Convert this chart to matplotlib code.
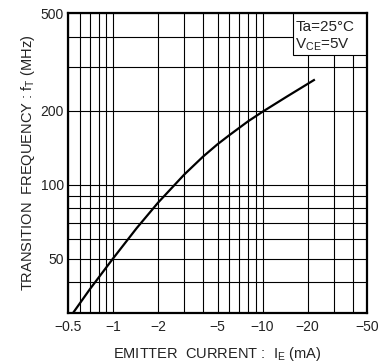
import matplotlib
matplotlib.use("Agg")
import matplotlib.pyplot as plt
from matplotlib.patches import Rectangle
from matplotlib.ticker import FixedLocator, NullFormatter

plt.rcParams['font.family'] = ['Liberation Sans', 'DejaVu Sans']
plt.rcParams['mathtext.fontset'] = 'custom'
plt.rcParams['mathtext.rm'] = 'Liberation Sans'

# Data (emitter current in mA, negative; transition frequency in MHz)
emitter_current = [-0.54, -0.7, -1.0, -1.44, -2.0, -3.0, -4.0, -5.0, -6.0, -8.0,
                   -10.0, -14.5, -22.4]
transition_freq = [30, 37.5, 50, 66.5, 84.4, 110, 130, 146, 159, 181,
                   198, 228, 268]

x_major = [0.5, 1, 2, 5, 10, 20, 50]
x_major_labels = ['\u22120.5', '\u22121', '\u22122', '\u22125', '\u221210', '\u221220', '\u221250']
x_minor = [0.6, 0.7, 0.8, 0.9, 3, 4, 6, 7, 8, 9, 30, 40]
y_major = [50, 100, 200, 500]
y_major_labels = ['50', '100', '200', '500']
y_minor = [40, 60, 70, 80, 90, 300, 400]

fig = plt.figure(figsize=(3.8, 3.64), dpi=100)
ax = fig.add_axes([68/380, 51/364, 299/380, 300/364])
ax.set_xscale('log')
ax.set_yscale('log')
ax.set_xlim(0.5, 50)
ax.set_ylim(30, 500)

ax.plot([-v for v in emitter_current], transition_freq, color='black', lw=1.6,
        solid_capstyle='butt', solid_joinstyle='round', zorder=3)

ax.xaxis.set_major_locator(FixedLocator(x_major))
ax.xaxis.set_minor_locator(FixedLocator(x_minor))
ax.set_xticklabels(x_major_labels)
ax.xaxis.set_minor_formatter(NullFormatter())
ax.yaxis.set_major_locator(FixedLocator(y_major))
ax.yaxis.set_minor_locator(FixedLocator(y_minor))
ax.set_yticklabels(y_major_labels)
ax.yaxis.set_minor_formatter(NullFormatter())

ax.tick_params(which='both', length=0, labelsize=10, colors='#222222')
ax.tick_params(axis='x', pad=5)
ax.tick_params(axis='y', pad=3)
ax.grid(True, which='both', color='black', lw=0.8)
for s in ax.spines.values():
    s.set_linewidth(1.6)
    s.set_zorder(5)

ax.set_xlabel(r'EMITTER  CURRENT :  I$\mathregular{_E}$ (mA)', fontsize=10.5,
              labelpad=8, color='#222222')
ax.set_ylabel(r'TRANSITION  FREQUENCY : f$\mathregular{_T}$ (MHz)', fontsize=10.5,
              labelpad=2.5, color='#222222')

# Condition box
ax.add_patch(Rectangle((0.751, 0.86), 0.249, 0.14, transform=ax.transAxes,
                       facecolor='white', edgecolor='black', lw=0.8, zorder=4))
ax.text(0.76, 0.955, 'Ta=25\u00b0C', transform=ax.transAxes, fontsize=11,
        va='center', ha='left', zorder=6, color='#222222')
ax.text(0.76, 0.893, r'V$\mathregular{_{CE}}$=5V', transform=ax.transAxes, fontsize=11,
        va='center', ha='left', zorder=6, color='#222222')

fig.savefig('out.png', dpi=100)
